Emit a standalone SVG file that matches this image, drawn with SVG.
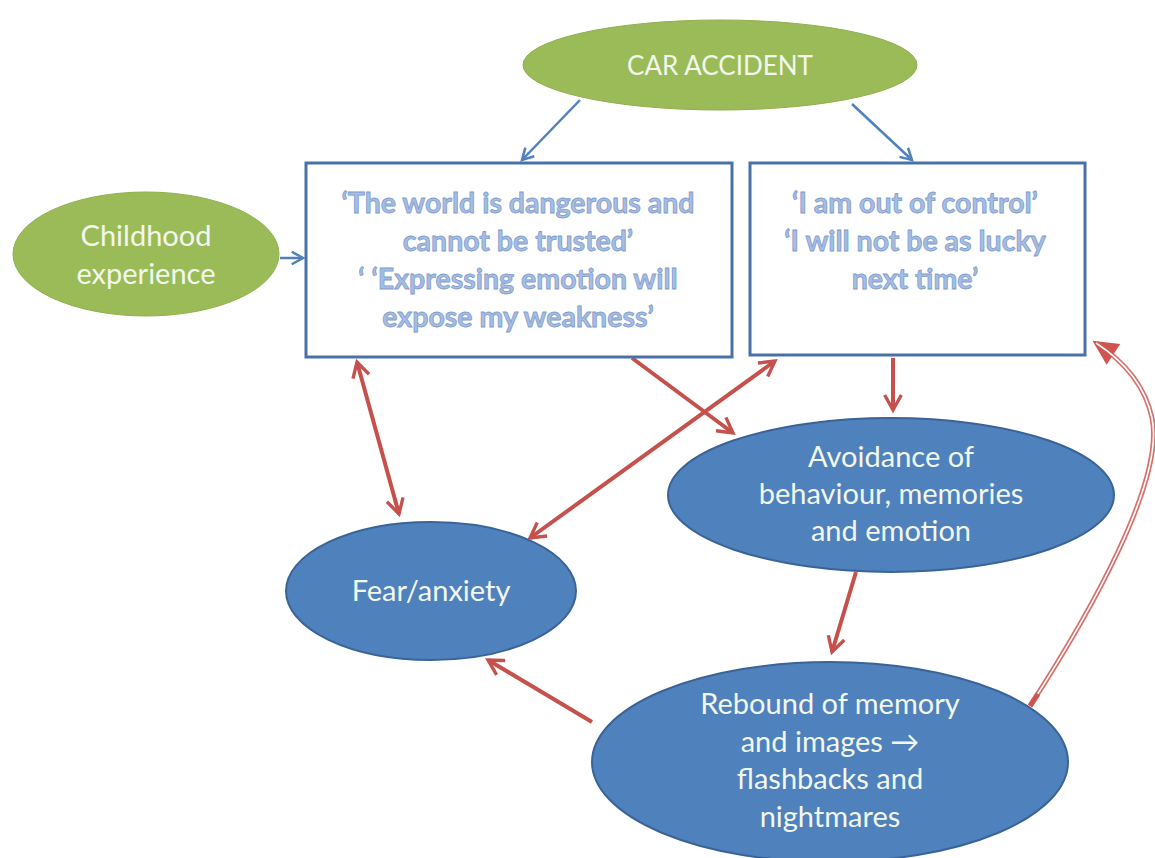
<svg xmlns="http://www.w3.org/2000/svg" width="1155" height="858" viewBox="0 0 1155 858">
<defs>
<style>
.green{fill:#9bbb59;stroke:#8fb04e;stroke-width:1}
.blueE{fill:#4f81bd;stroke:#3a6397;stroke-width:2}
.box{fill:#ffffff;stroke:#4a70a8;stroke-width:3}
.tw{font-family:Lato,"Open Sans","Liberation Sans",sans-serif;font-size:29px;fill:#f2f7ec;text-anchor:middle}
.tc{font-size:26px}
.tb{font-family:Lato,"Open Sans","Liberation Sans",sans-serif;font-size:28.5px;font-weight:bold;fill:#a6bee3;stroke:#7f9bcb;stroke-width:0.8;text-anchor:middle}
.bl{fill:none;stroke:#4f81bd;stroke-width:2.5}
.rd{fill:none;stroke:#c6504c;stroke-width:4}
</style>
<marker id="ab" viewBox="0 0 12 12" refX="10" refY="6" markerWidth="6" markerHeight="6" markerUnits="strokeWidth" orient="auto-start-reverse">
<path d="M1,1 L10,6 L1,11" fill="none" stroke="#4f81bd" stroke-width="2"/>
</marker>
<marker id="ar" viewBox="0 0 12 12" refX="10" refY="6" markerWidth="5" markerHeight="5" markerUnits="strokeWidth" orient="auto-start-reverse">
<path d="M1,1 L10,6 L1,11" fill="none" stroke="#c6504c" stroke-width="2"/>
</marker>
<marker id="af" viewBox="0 0 12 12" refX="10" refY="6" markerWidth="6" markerHeight="5" markerUnits="strokeWidth" orient="auto">
<path d="M0,0 L12,6 L0,12 Z" fill="#d0554f"/>
</marker>
</defs>
<rect width="1155" height="858" fill="#ffffff"/>
<g id="connectors">
<path class="bl" d="M580,100 L522,160" marker-end="url(#ab)"/>
<path class="bl" d="M852,104 L912,160" marker-end="url(#ab)"/>
<path class="bl" d="M280,258 L303,258" marker-end="url(#ab)"/>
<path class="rd" d="M357,362 L399,514" marker-start="url(#ar)" marker-end="url(#ar)"/>
<path class="rd" d="M632,358 L733,433" marker-end="url(#ar)"/>
<path class="rd" d="M775,361 L530,538" marker-start="url(#ar)" marker-end="url(#ar)"/>
<path class="rd" d="M893,358 L893,410" marker-end="url(#ar)"/>
<path class="rd" d="M856,572 L832,652" marker-end="url(#ar)"/>
<path class="rd" d="M592,722 L488,660" marker-end="url(#ar)"/>
<path d="M1030,706 C1092,610 1165,480 1152,418 C1145,385 1122,360 1096,343" fill="none" stroke="#d6706b" stroke-width="5" marker-end="url(#af)"/>
<path d="M1030,706 C1092,610 1165,480 1152,418 C1145,385 1122,360 1096,343" fill="none" stroke="#ffffff" stroke-width="1.6"/>
<path d="M1030,706 L1038,694" stroke="#d0554f" stroke-width="5"/>
</g>
<g id="car-accident">
<ellipse class="green" cx="720" cy="65" rx="197" ry="45"/>
<text class="tw tc" x="720" y="75">CAR ACCIDENT</text>
</g>
<g id="childhood">
<ellipse class="green" cx="146" cy="254" rx="133" ry="62"/>
<text class="tw" x="146" y="246">Childhood</text>
<text class="tw" x="146" y="284">experience</text>
</g>
<g id="box-world">
<rect class="box" x="306" y="163" width="426" height="194"/>
<text class="tb" x="518" y="213">‘The world is dangerous and</text>
<text class="tb" x="518" y="251">cannot be trusted’</text>
<text class="tb" x="518" y="289">‘ ‘Expressing emotion will</text>
<text class="tb" x="518" y="327">expose my weakness’</text>
</g>
<g id="box-control">
<rect class="box" x="750" y="163" width="335" height="192"/>
<text class="tb" x="915" y="213">‘I am out of control’</text>
<text class="tb" x="915" y="251">‘I will not be as lucky</text>
<text class="tb" x="915" y="289">next time’</text>
</g>
<g id="avoidance">
<ellipse class="blueE" cx="891" cy="495" rx="223" ry="77"/>
<text class="tw" x="891" y="467">Avoidance of</text>
<text class="tw" x="891" y="504">behaviour, memories</text>
<text class="tw" x="891" y="541">and emotion</text>
</g>
<g id="fear">
<ellipse class="blueE" cx="431" cy="591" rx="145" ry="69"/>
<text class="tw" x="431" y="601">Fear/anxiety</text>
</g>
<g id="rebound">
<ellipse class="blueE" cx="830" cy="762" rx="238" ry="100"/>
<text class="tw" x="830" y="714">Rebound of memory</text>
<text class="tw" x="830" y="752">and images →</text>
<text class="tw" x="830" y="789">flashbacks and</text>
<text class="tw" x="830" y="827">nightmares</text>
</g>
</svg>
